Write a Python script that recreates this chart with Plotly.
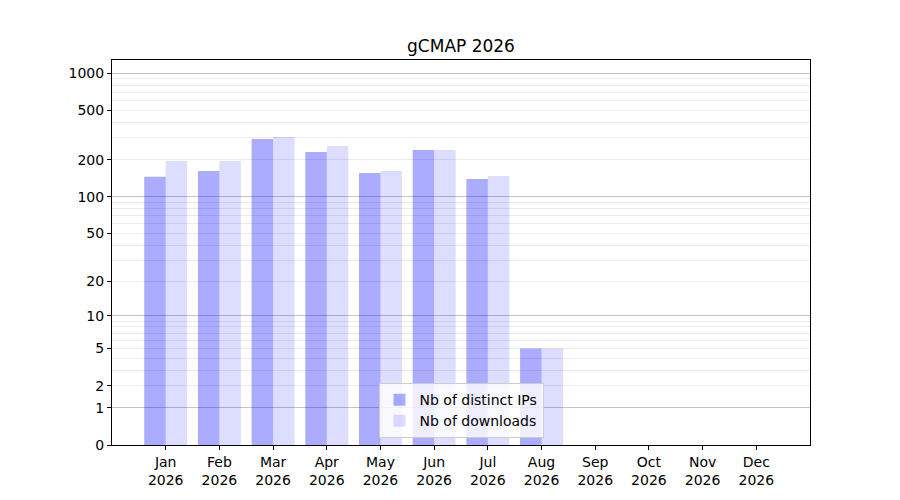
import plotly.graph_objects as go

# monthly stats, values
months = ["Jan", "Feb", "Mar", "Apr", "May", "Jun", "Jul", "Aug", "Sep", "Oct", "Nov", "Dec"]
year = "2026"
distinct_ips = [145, 162, 294, 231, 156, 239, 139, 5, 0, 0, 0, 0]
downloads = [195, 195, 305, 258, 162, 239, 147, 5, 0, 0, 0, 0]

# y axis is log10(1 + n): ticks are shown at n, placed at n + 1
y_tick_labels = [0, 1, 2, 5, 10, 20, 50, 100, 200, 500, 1000]
y_major_grid = [1, 10, 100, 1000]
y_minor_grid = [k * 10 ** d for d in range(3) for k in range(2, 10)]

x_pos = list(range(len(months)))
x_labels = [m + "<br>" + year for m in months]


def shift(vals):
    # log axis can't show 0, so everything is moved up by one
    return [v + 1 for v in vals]


fig = go.Figure()

fig.add_trace(go.Bar(
    x=x_pos,
    y=shift(distinct_ips),
    customdata=distinct_ips,
    hovertemplate="%{customdata}<extra></extra>",
    name="Nb of distinct IPs",
    marker=dict(color="rgba(0,0,255,0.33)", line=dict(width=0)),
))

fig.add_trace(go.Bar(
    x=x_pos,
    y=shift(downloads),
    customdata=downloads,
    hovertemplate="%{customdata}<extra></extra>",
    name="Nb of downloads",
    marker=dict(color="rgba(0,0,255,0.135)", line=dict(width=0)),
))

y_range = [0, 3.107]

# page body has an 8px margin, margins below are tuned for that
fig.update_layout(
    width=900,
    height=500,
    margin=dict(l=104, r=98, t=52, b=63),
    paper_bgcolor="white",
    plot_bgcolor="white",
    font=dict(family="DejaVu Sans", size=14, color="black"),
    title=dict(text="gCMAP 2026", x=0.5, xref="paper", xanchor="center",
               y=1 - 38 / 500, yref="container", yanchor="middle",
               font=dict(size=17, color="black")),
    barmode="group",
    bargap=0.2,
    bargroupgap=0,
    showlegend=True,
    legend=dict(x=0.5, xanchor="center", y=0.018, yanchor="bottom",
                bgcolor="rgba(255,255,255,0.8)", bordercolor="#cccccc", borderwidth=1,
                font=dict(size=14), traceorder="normal"),
    xaxis=dict(
        range=[-1, 12],
        tickmode="array",
        tickvals=x_pos,
        ticktext=x_labels,
        ticks="outside",
        ticklen=4,
        tickcolor="black",
        showgrid=False,
        zeroline=False,
        showline=True,
        linecolor="black",
        linewidth=1,
        mirror=True,
    ),
    yaxis=dict(
        type="log",
        range=y_range,
        tickmode="array",
        tickvals=shift(y_tick_labels),
        ticktext=[str(t) for t in y_tick_labels],
        ticks="outside",
        ticklen=4,
        tickcolor="black",
        showgrid=False,
        zeroline=False,
        showline=True,
        linecolor="black",
        linewidth=1,
        mirror=True,
        minor=dict(tickmode="array", tickvals=shift(y_minor_grid), ticks="",
                   showgrid=True, gridcolor="#ebebeb", gridwidth=1),
    ),
    yaxis2=dict(
        type="log",
        range=y_range,
        overlaying="y",
        tickmode="array",
        tickvals=shift(y_major_grid),
        showticklabels=False,
        ticks="",
        showgrid=True,
        gridcolor="#c4c4c4",
        gridwidth=1,
        zeroline=False,
        showline=False,
    ),
)

# invisible trace so the overlay axis (only used for the darker grid lines) is drawn
fig.add_trace(go.Scatter(x=[x_pos[0]], y=[1], yaxis="y2", mode="markers",
                         marker=dict(opacity=0), showlegend=False, hoverinfo="skip"))

fig.write_html("out.html")
